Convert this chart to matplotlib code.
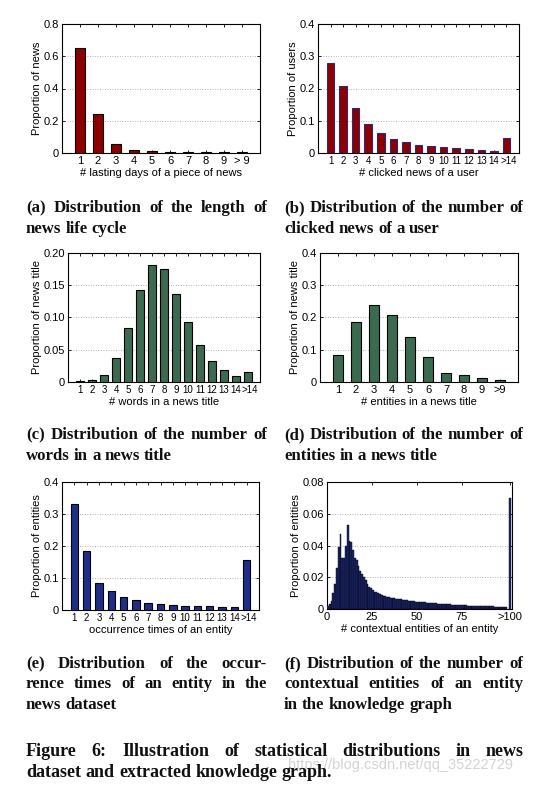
import numpy as np
import matplotlib
matplotlib.use('Agg')
import matplotlib.pyplot as plt
from matplotlib.transforms import ScaledTranslation

W, H = 550, 786

# (a) lasting days of a piece of news
days_labels = ['1', '2', '3', '4', '5', '6', '7', '8', '9', '> 9']
days_vals = [0.65, 0.24, 0.055, 0.018, 0.010, 0.006, 0.005, 0.004, 0.004, 0.007]

# (b) clicked news of a user
click_labels = [str(i) for i in range(1, 15)] + ['>14']
click_vals = [0.278, 0.208, 0.140, 0.090, 0.062, 0.043, 0.034, 0.024, 0.021,
              0.018, 0.016, 0.013, 0.009, 0.006, 0.047]

# (c) words in a news title
word_labels = [str(i) for i in range(1, 15)] + ['>14']
word_vals = [0.001, 0.003, 0.011, 0.037, 0.083, 0.143, 0.182, 0.175, 0.136,
             0.093, 0.057, 0.033, 0.018, 0.010, 0.015]

# (d) entities in a news title
ent_labels = ['1', '2', '3', '4', '5', '6', '7', '8', '9', '>9']
ent_vals = [0.083, 0.186, 0.240, 0.207, 0.138, 0.076, 0.028, 0.022, 0.013, 0.005]

# (e) occurrence times of an entity
occ_labels = [str(i) for i in range(1, 15)] + ['>14']
occ_vals = [0.332, 0.183, 0.085, 0.060, 0.040, 0.030, 0.023, 0.019, 0.016,
            0.014, 0.012, 0.011, 0.009, 0.009, 0.157]

# (f) contextual entities of an entity, 1..100 then >100
ctx_vals = [0.002, 0.003, 0.005, 0.010, 0.016, 0.026, 0.039, 0.047, 0.032, 0.032,
            0.040, 0.053, 0.043, 0.042, 0.037, 0.032, 0.031, 0.027, 0.024, 0.022,
            0.020, 0.018, 0.016, 0.014, 0.0135, 0.012, 0.011, 0.0105, 0.0098, 0.0092,
            0.0088, 0.0085, 0.0080, 0.0078, 0.0075, 0.0072, 0.0070, 0.0068, 0.0066, 0.0064,
            0.0062, 0.0060, 0.0058, 0.0057, 0.0055, 0.0053, 0.0052, 0.0050, 0.0049, 0.0047,
            0.0046, 0.0045, 0.0044, 0.0042, 0.0041, 0.0040, 0.0039, 0.0038, 0.0037, 0.0036,
            0.0035, 0.0034, 0.0033, 0.0033, 0.0032, 0.0031, 0.0030, 0.0029, 0.0029, 0.0028,
            0.0027, 0.0027, 0.0026, 0.0025, 0.0025, 0.0024, 0.0024, 0.0023, 0.0022, 0.0022,
            0.0021, 0.0021, 0.0020, 0.0020, 0.0019, 0.0019, 0.0018, 0.0018, 0.0017, 0.0017,
            0.0016, 0.0016, 0.0016, 0.0015, 0.0015, 0.0014, 0.0014, 0.0014, 0.0013, 0.0013]
ctx_tail = 0.070

RED = '#8c0000'
GREEN = '#3a6b50'
BLUE = '#1e2e8a'
FS = 8

plt.rcParams['font.family'] = ['Liberation Sans', 'DejaVu Sans']

fig = plt.figure(figsize=(W / 100, H / 100), dpi=100)


def px_axes(left, top, right, bottom):
    return fig.add_axes([left / W, 1 - bottom / H, (right - left) / W, (bottom - top) / H])


def style(ax, ymax, yticks, yticklabels, ylabel, xlabel):
    ax.set_ylim(0, ymax)
    ax.set_yticks(yticks)
    ax.set_yticklabels(yticklabels)
    ax.tick_params(direction='in', length=2.5, width=0.6, top=True, right=True,
                   labelsize=FS, pad=2)
    ax.yaxis.grid(True, linestyle=(0, (1, 2)), color='#9a9a9a', linewidth=0.6)
    ax.set_axisbelow(True)
    for s in ax.spines.values():
        s.set_linewidth(0.8)
    ax.set_ylabel(ylabel, fontsize=FS, labelpad=1)
    ax.set_xlabel(xlabel, fontsize=FS, labelpad=1.5)


def bar_panel(rect, labels, values, color, edge, ymax, yticks, yticklabels, ylabel, xlabel):
    ax = px_axes(*rect)
    x = np.arange(1, len(values) + 1)
    ax.bar(x, values, width=0.6, color=color, edgecolor=edge, linewidth=0.8, zorder=3)
    ax.set_xlim(0, len(values) + 1)
    ax.set_xticks(x)
    ax.set_xticklabels(labels)
    style(ax, ymax, yticks, yticklabels, ylabel, xlabel)
    if len(values) > 12:
        ax.tick_params(axis='x', labelsize=7)
        last = ax.get_xticklabels()[-1]
        last.set_transform(last.get_transform() + ScaledTranslation(2 / 100, 0, fig.dpi_scale_trans))
    return ax


bar_panel((62, 24, 260, 153), days_labels, days_vals, RED, 'black', 0.8,
          [0, 0.2, 0.4, 0.6, 0.8], ['0', '0.2', '0.4', '0.6', '0.8'],
          'Proportion of news', '# lasting days of a piece of news')
bar_panel((318, 24, 519, 153), click_labels, click_vals, RED, '#2a2a80', 0.4,
          [0, 0.1, 0.2, 0.3, 0.4], ['0', '0.1', '0.2', '0.3', '0.4'],
          'Proportion of users', '# clicked news of a user')
bar_panel((68, 253, 260, 382), word_labels, word_vals, GREEN, 'black', 0.2,
          [0, 0.05, 0.10, 0.15, 0.20], ['0', '0.05', '0.10', '0.15', '0.20'],
          'Proportion of news title', '# words in a news title')
bar_panel((320, 253, 518, 382), ent_labels, ent_vals, GREEN, 'black', 0.4,
          [0, 0.1, 0.2, 0.3, 0.4], ['0', '0.1', '0.2', '0.3', '0.4'],
          'Proportion of news title', '# entities in a news title')
bar_panel((62, 482, 259, 610), occ_labels, occ_vals, BLUE, 'black', 0.4,
          [0, 0.1, 0.2, 0.3, 0.4], ['0', '0.1', '0.2', '0.3', '0.4'],
          'Proportion of entities', 'occurrence times of an entity')

# (f) histogram
ax = px_axes(327, 482, 512, 609)
centers = np.arange(1, len(ctx_vals) + 1) - 0.5
ax.bar(centers, ctx_vals, width=1.0, color='#1c2870', edgecolor='black', linewidth=0.3, zorder=3)
ax.bar([102], [ctx_tail], width=1.0, color='#1c2870', edgecolor='black', linewidth=0.3, zorder=3)
ax.set_xlim(0, 103)
ax.set_xticks([0, 25, 50, 75, 102])
ax.set_xticklabels(['0', '25', '50', '75', '>100'])
style(ax, 0.08, [0, 0.02, 0.04, 0.06, 0.08], ['0', '0.02', '0.04', '0.06', '0.08'],
      'Proportion of entities', '# contextual entities of an entity')

# captions, justified like the paper
renderer = fig.canvas.get_renderer()
SERIF = 'Liberation Serif'


def fit_size(text, width):
    probe = fig.text(0, 0, text, fontsize=10, fontweight='bold', family=SERIF)
    size = 10 * width / probe.get_window_extent(renderer).width
    probe.remove()
    return size


CAP = fit_size('(b) Distribution of the number of', 236)
FIGCAP = min(fit_size('dataset and extracted knowledge graph.', 330), CAP * 1.08)


def put_line(text, x0, x1, base, justify, size):
    words = text.split(' ')
    objs = [fig.text(0, 0, w, fontsize=size, fontweight='bold', family=SERIF,
                     va='baseline', ha='left', color='#111111') for w in words]
    widths = [t.get_window_extent(renderer).width for t in objs]
    if justify and len(words) > 1:
        gap = (x1 - x0 - sum(widths)) / (len(words) - 1)
    else:
        gap = size * 100 / 72 * 0.25
    x = x0
    for t, w in zip(objs, widths):
        t.set_position((x / W, 1 - base / H))
        x += w + gap


def caption(lines, x0, x1, base, step=20.5, size=None):
    size = size or CAP
    for i, line in enumerate(lines):
        put_line(line, x0, x1, base + i * step, i < len(lines) - 1, size)


caption(['(a) Distribution of the length of', 'news life cycle'], 26, 267, 212)
caption(['(b) Distribution of the number of', 'clicked news of a user'], 284, 523, 212)
caption(['(c) Distribution of the number of', 'words in a news title'], 26, 267, 439)
caption(['(d) Distribution of the number of', 'entities in a news title'], 284, 523, 439)
caption(['(e) Distribution of the occur-', 'rence times of an entity in the', 'news dataset'],
        26, 267, 668)
caption(['(f) Distribution of the number of', 'contextual entities of an entity',
         'in the knowledge graph'], 284, 523, 668)

fig.text(288 / W, 1 - 769 / H, 'https://blog.csdn.net/qq_35222729', fontsize=10.5,
         color='#d4d4d4', family='Liberation Sans', va='baseline', ha='left', zorder=0)

caption(['Figure 6: Illustration of statistical distributions in news',
         'dataset and extracted knowledge graph.'], 26, 524, 756, step=21, size=FIGCAP)

fig.savefig('out.png', dpi=100)
